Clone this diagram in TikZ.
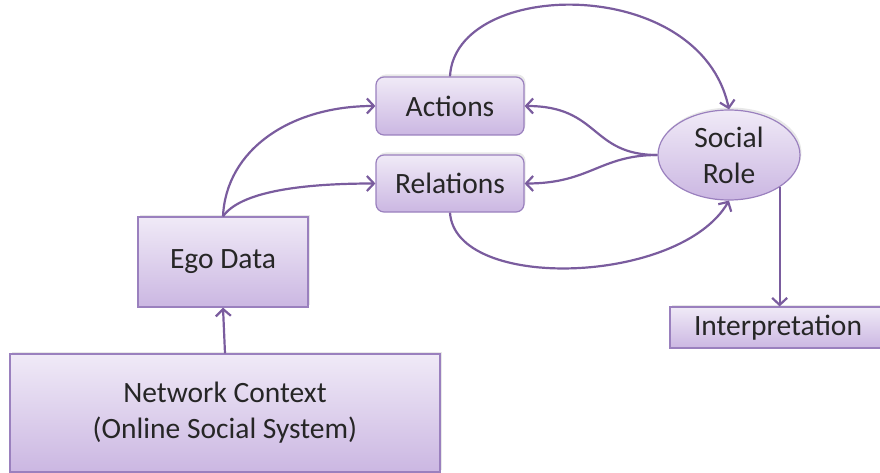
\documentclass[tikz,border=0pt]{standalone}
\usepackage{fontspec}
\setmainfont{Carlito}
\usetikzlibrary{shapes.geometric,arrows.meta,shadows}
\definecolor{edgec}{HTML}{9A80BE}
\definecolor{arrc}{HTML}{7A5C9E}
\definecolor{topc}{HTML}{F0EAF7}
\definecolor{botc}{HTML}{CBB7E2}
\tikzset{
  boxbase/.style={draw=edgec, line width=1.2pt, top color=topc, bottom color=botc,
    font=\fontsize{29.5}{36}\selectfont, text=black!85, align=center, inner sep=0pt,
    drop shadow={opacity=0.18, shadow xshift=1.5pt, shadow yshift=2.5pt}},
  rbox/.style={boxbase, rectangle, rounded corners=8pt},
  sbox/.style={boxbase, rectangle},
  ebox/.style={boxbase, ellipse},
  conn/.style={draw=arrc, line width=2.2pt, -{Straight Barb[length=7pt,width=15pt,line width=2.2pt]}}
}
\begin{document}
\begin{tikzpicture}[x=1pt,y=-1pt]
\useasboundingbox (0,0) rectangle (880,473);
\node[rbox, minimum width=148pt, minimum height=58pt] (act) at (450,106) {Actions};
\node[rbox, minimum width=148pt, minimum height=57pt] (rel) at (450,183.5) {Relations};
\node[ebox, minimum width=142pt, minimum height=90pt] (role) at (729,155) {Social\\Role};
\node[sbox, minimum width=216pt, minimum height=41pt] (interp) at (778,327.5) {Interpretation};
\node[sbox, minimum width=170pt, minimum height=90pt] (ego) at (223,262) {Ego Data};
\node[sbox, minimum width=430pt, minimum height=118pt] (net) at (225,413) {Network Context\\(Online Social System)};

\draw[conn] (net.north) -- (ego.south);
\draw[conn] (ego.north) .. controls (226,150) and (290,106) .. (act.west);
\draw[conn] (ego.north) .. controls (240,192) and (300,183.5) .. (rel.west);
\draw[conn] (act.north) .. controls (455,-22) and (700,-26) .. (role.north);
\draw[conn] (rel.south) .. controls (455,292) and (680,285) .. (role.south);
\draw[conn] (role.west) .. controls (590,155) and (600,106) .. (act.east);
\draw[conn] (role.west) .. controls (600,155) and (590,183.5) .. (rel.east);
\draw[conn] (role.south east) -- (role.south east |- interp.north);
\end{tikzpicture}
\end{document}
